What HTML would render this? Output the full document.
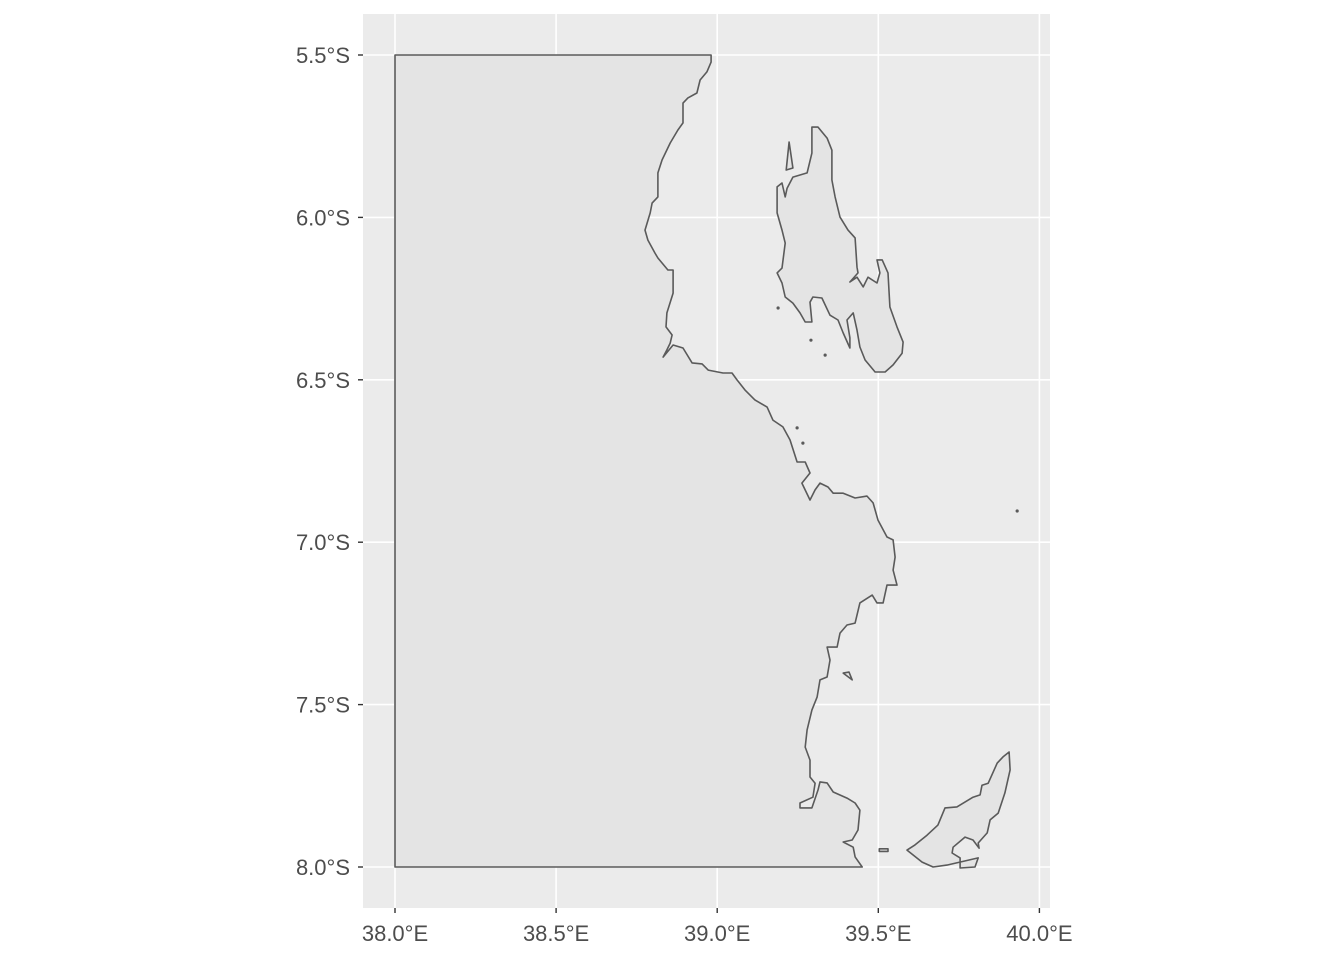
<!DOCTYPE html>
<html><head><meta charset="utf-8"><style>
html,body{margin:0;padding:0;background:#fff;}
svg{display:block;font-family:"Liberation Sans",Arial,sans-serif;}
</style></head><body>
<svg id="chart" width="1344" height="960" viewBox="0 0 1344 960">
<rect x="363" y="14" width="687" height="894" fill="#ebebeb"/>
<g id="grid"></g>
<g id="land"></g>
<g id="axes"></g>
</svg>
<script>
const xTicks = [38.0, 38.5, 39.0, 39.5, 40.0];
const xTickLabels = ["38.0°E", "38.5°E", "39.0°E", "39.5°E", "40.0°E"];
const yTicks = [5.5, 6.0, 6.5, 7.0, 7.5, 8.0];
const yTickLabels = ["5.5°S", "6.0°S", "6.5°S", "7.0°S", "7.5°S", "8.0°S"];

const mainlandLon = [38.981,38.981,38.968,38.947,38.937,38.909,38.894,38.894,38.878,38.854,38.829,38.816,38.816,38.798,38.792,38.776,38.785,38.807,38.816,38.847,38.863,38.863,38.844,38.841,38.860,38.854,38.844,38.832,38.863,38.894,38.922,38.953,38.972,39.018,39.046,39.062,39.086,39.117,39.155,39.173,39.204,39.226,39.248,39.273,39.288,39.263,39.288,39.304,39.319,39.344,39.360,39.391,39.428,39.465,39.484,39.499,39.527,39.546,39.552,39.546,39.558,39.527,39.515,39.496,39.481,39.443,39.428,39.403,39.381,39.372,39.341,39.350,39.341,39.319,39.310,39.294,39.279,39.273,39.288,39.288,39.304,39.297,39.257,39.257,39.294,39.313,39.319,39.341,39.360,39.403,39.428,39.443,39.437,39.419,39.391,39.422,39.428,39.450,38.0,38.0];
const mainlandLat = [5.500,5.522,5.552,5.577,5.617,5.632,5.648,5.709,5.731,5.771,5.823,5.863,5.937,5.956,5.986,6.039,6.070,6.110,6.125,6.162,6.162,6.233,6.294,6.337,6.362,6.387,6.408,6.430,6.393,6.402,6.448,6.451,6.470,6.479,6.479,6.501,6.531,6.562,6.584,6.624,6.645,6.685,6.753,6.753,6.787,6.818,6.870,6.839,6.818,6.830,6.849,6.849,6.864,6.858,6.879,6.932,6.984,6.993,7.046,7.086,7.132,7.132,7.187,7.187,7.163,7.187,7.249,7.255,7.280,7.323,7.323,7.363,7.415,7.424,7.477,7.517,7.578,7.631,7.671,7.723,7.742,7.785,7.803,7.818,7.818,7.763,7.738,7.741,7.769,7.788,7.803,7.825,7.886,7.917,7.923,7.939,7.969,8.000,8.000,5.500];

const zanzibarLon = [39.294,39.313,39.341,39.356,39.356,39.366,39.381,39.406,39.428,39.434,39.437,39.412,39.434,39.453,39.468,39.496,39.505,39.496,39.512,39.530,39.536,39.558,39.577,39.574,39.546,39.521,39.490,39.459,39.443,39.434,39.422,39.403,39.412,39.412,39.391,39.375,39.350,39.325,39.297,39.288,39.294,39.273,39.257,39.235,39.211,39.201,39.186,39.201,39.211,39.201,39.186,39.186,39.201,39.211,39.217,39.235,39.279,39.294,39.294];
const zanzibarLat = [5.722,5.722,5.756,5.793,5.885,5.937,5.999,6.039,6.063,6.153,6.171,6.199,6.184,6.214,6.184,6.202,6.171,6.131,6.131,6.171,6.276,6.337,6.384,6.418,6.454,6.476,6.476,6.439,6.399,6.347,6.294,6.316,6.371,6.402,6.356,6.316,6.301,6.248,6.245,6.261,6.322,6.322,6.294,6.264,6.245,6.202,6.171,6.156,6.079,6.039,5.986,5.906,5.894,5.937,5.910,5.876,5.863,5.802,5.762];

const mafiaLon = [39.906,39.909,39.893,39.872,39.847,39.838,39.810,39.813,39.794,39.769,39.732,39.729,39.754,39.754,39.800,39.810,39.713,39.670,39.636,39.589,39.614,39.651,39.685,39.707,39.744,39.794,39.816,39.822,39.841,39.869,39.887];
const mafiaLat = [7.646,7.701,7.772,7.834,7.855,7.895,7.926,7.942,7.917,7.908,7.939,7.957,7.972,8.003,8.000,7.972,7.994,8.000,7.985,7.948,7.932,7.902,7.871,7.818,7.815,7.785,7.778,7.748,7.742,7.680,7.661];

const isletALon = [39.223,39.235,39.214];
const isletALat = [5.768,5.848,5.854];
const isletBLon = [39.391,39.409,39.419];
const isletBLat = [7.403,7.400,7.424];
const isletCLon = [39.503,39.530,39.530,39.503];
const isletCLat = [7.944,7.944,7.952,7.952];

const dotLon = [39.189,39.291,39.335,39.248,39.266,39.931];
const dotLat = [6.279,6.378,6.424,6.648,6.695,6.904];

const NS = "http://www.w3.org/2000/svg";
const xScale = v => 395 + (v - 38) * 322.2;
const yScale = v => 55 + (v - 5.5) * 324.8;

const grid = document.getElementById('grid');
const land = document.getElementById('land');
const axes = document.getElementById('axes');

xTicks.forEach((t, i) => {
  const x = xScale(t);
  const g = document.createElementNS(NS, 'line');
  g.setAttribute('x1', x); g.setAttribute('x2', x); g.setAttribute('y1', 14); g.setAttribute('y2', 908);
  g.setAttribute('stroke', '#fff'); g.setAttribute('stroke-width', '1.6');
  
  
  grid.appendChild(g);
  const tk = document.createElementNS(NS, 'line');
  tk.setAttribute('x1', x); tk.setAttribute('x2', x); tk.setAttribute('y1', 908); tk.setAttribute('y2', 913);
  tk.setAttribute('stroke', '#333'); tk.setAttribute('stroke-width', '1.4');
  
  
  axes.appendChild(tk);
  const tx = document.createElementNS(NS, 'text');
  tx.setAttribute('x', x); tx.setAttribute('y', 941); tx.setAttribute('text-anchor', 'middle');
  tx.setAttribute('font-size', '22'); tx.setAttribute('fill', '#4d4d4d');
  tx.textContent = xTickLabels[i];
  
  
  axes.appendChild(tx);
});
yTicks.forEach((t, i) => {
  const y = yScale(t);
  const g = document.createElementNS(NS, 'line');
  g.setAttribute('x1', 363); g.setAttribute('x2', 1050); g.setAttribute('y1', y); g.setAttribute('y2', y);
  g.setAttribute('stroke', '#fff'); g.setAttribute('stroke-width', '1.6');
  
  
  grid.appendChild(g);
  const tk = document.createElementNS(NS, 'line');
  tk.setAttribute('x1', 358); tk.setAttribute('x2', 363); tk.setAttribute('y1', y); tk.setAttribute('y2', y);
  tk.setAttribute('stroke', '#333'); tk.setAttribute('stroke-width', '1.4');
  
  
  axes.appendChild(tk);
  const tx = document.createElementNS(NS, 'text');
  tx.setAttribute('x', 350); tx.setAttribute('y', y + 8); tx.setAttribute('text-anchor', 'end');
  tx.setAttribute('font-size', '22'); tx.setAttribute('fill', '#4d4d4d');
  tx.textContent = yTickLabels[i];
  
  
  axes.appendChild(tx);
});

function poly(lons, lats, name) {
  const p = document.createElementNS(NS, 'polygon');
  p.setAttribute('points', lons.map((v, i) => xScale(v).toFixed(1) + ',' + yScale(lats[i]).toFixed(1)).join(' '));
  p.setAttribute('fill', '#e4e4e4'); p.setAttribute('stroke', '#5a5a5a');
  p.setAttribute('stroke-width', '1.6'); p.setAttribute('stroke-linejoin', 'round');
  
  
  land.appendChild(p);
}
poly(mainlandLon, mainlandLat, 'mainland-polygon');
poly(zanzibarLon, zanzibarLat, 'zanzibar-polygon');
poly(mafiaLon, mafiaLat, 'mafia-polygon');
poly(isletALon, isletALat, 'islet-north');
poly(isletBLon, isletBLat, 'islet-south');
poly(isletCLon, isletCLat, 'islet-mafia-west');
dotLon.forEach((v, i) => {
  const c = document.createElementNS(NS, 'circle');
  c.setAttribute('cx', xScale(v)); c.setAttribute('cy', yScale(dotLat[i])); c.setAttribute('r', '1.6');
  c.setAttribute('fill', '#5a5a5a');
  
  
  land.appendChild(c);
});
</script>
</body></html>
